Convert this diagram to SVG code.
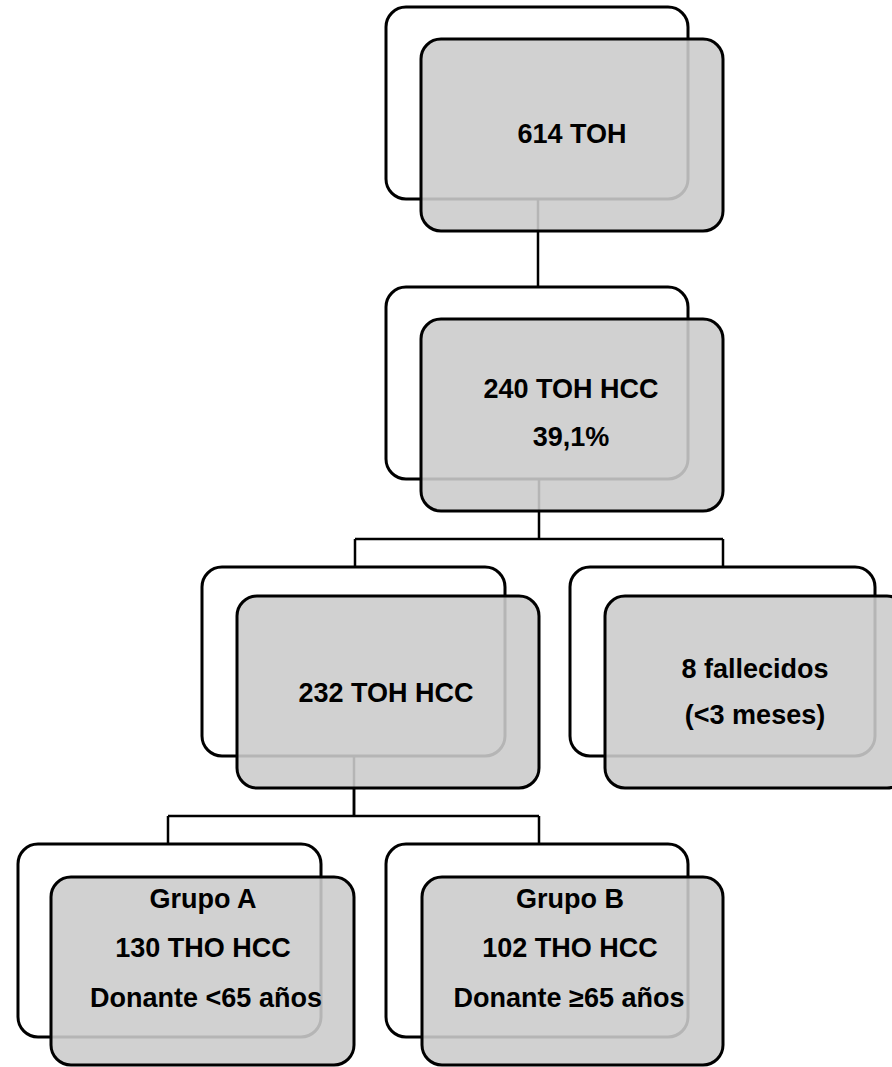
<svg xmlns="http://www.w3.org/2000/svg" width="892" height="1067" viewBox="0 0 892 1067">
<style>
.back{fill:#ffffff;stroke:#000000;stroke-width:3}
.front{fill:#cbcbcb;fill-opacity:0.89;stroke:#000000;stroke-width:3}
.conn{fill:none;stroke:#000000;stroke-width:2.5}
.t{font-family:"Liberation Sans",Arial,sans-serif;font-weight:bold;font-size:27px;fill:#000000;text-anchor:middle}
</style>
<rect width="892" height="1067" fill="#ffffff"/>
<g id="connectors">
<path class="conn" d="M538 199 V287"/>
<path class="conn" d="M539 479 V539 M355 539 H723 M355 539 V567 M723 539 V567"/>
<path class="conn" d="M354 756 V816 M168 816 H539 M168 816 V844 M539 816 V844"/>
<path class="conn" d="M354 788 V816" stroke-width="4"/>
</g>
<g id="node-614">
<rect class="back" x="386" y="7" width="302" height="192" rx="20"/>
<rect class="front" x="421" y="39" width="302" height="192" rx="20"/>
<text class="t" x="572" y="143">614 TOH</text>
</g>
<g id="node-240">
<rect class="back" x="386" y="287" width="302" height="192" rx="20"/>
<rect class="front" x="421" y="319" width="302" height="192" rx="20"/>
<text class="t" x="571" y="398">240 TOH HCC</text>
<text class="t" x="571" y="446">39,1%</text>
</g>
<g id="node-232">
<rect class="back" x="202" y="567" width="303" height="189" rx="20"/>
<rect class="front" x="237" y="596" width="302" height="192" rx="20"/>
<text class="t" x="386" y="702">232 TOH HCC</text>
</g>
<g id="node-8">
<rect class="back" x="570" y="567" width="305" height="189" rx="20"/>
<rect class="front" x="605" y="596" width="302" height="192" rx="20"/>
<text class="t" x="755" y="678">8 fallecidos</text>
<text class="t" x="755" y="724">(&lt;3 meses)</text>
</g>
<g id="node-grupo-a">
<rect class="back" x="18" y="844" width="303" height="193" rx="20"/>
<rect class="front" x="51" y="877" width="303" height="188" rx="20"/>
<text class="t" x="203" y="908">Grupo A</text>
<text class="t" x="203" y="957">130 THO HCC</text>
<text class="t" x="206" y="1007">Donante &lt;65 años</text>
</g>
<g id="node-grupo-b">
<rect class="back" x="386" y="844" width="302" height="193" rx="20"/>
<rect class="front" x="422" y="877" width="301" height="188" rx="20"/>
<text class="t" x="570" y="908">Grupo B</text>
<text class="t" x="570" y="957">102 THO HCC</text>
<text class="t" x="569" y="1007">Donante ≥65 años</text>
</g>
</svg>
